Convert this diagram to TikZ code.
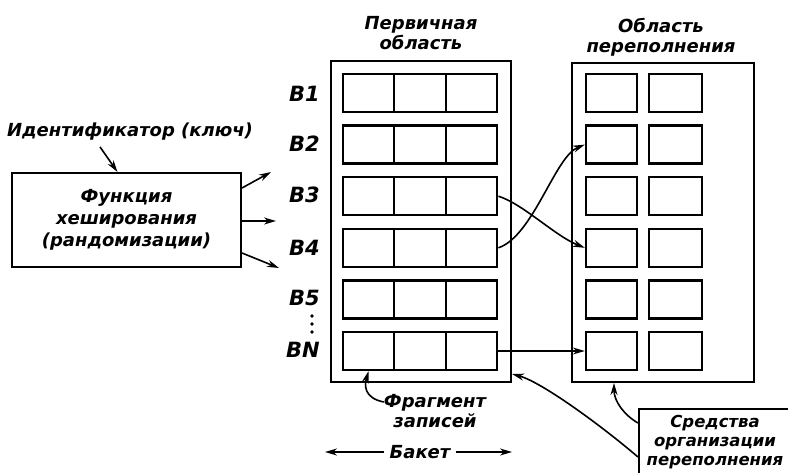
\documentclass[tikz,border=0pt]{standalone}
\usepackage{fontspec}
\setmainfont{DejaVu Sans}
\usepackage{tikz}
\usetikzlibrary{arrows.meta}
\pgfdeclarelayer{edgelayer}
\pgfdeclarelayer{nodelayer}
\pgfsetlayers{edgelayer,nodelayer,main}
\tikzstyle{cell}=[draw=black, line width=2.4pt, minimum width=51.5pt, minimum height=38pt, inner sep=0pt]
\tikzstyle{area}=[draw=black, line width=2pt, inner sep=0pt]
\tikzstyle{note}=[font=\fontsize{18}{20}\selectfont\bfseries\itshape, align=center, inner sep=0pt]
\tikzstyle{bname}=[font=\fontsize{21}{20}\selectfont\bfseries\itshape, anchor=east, inner sep=0pt]
\tikzstyle{link}=[draw=black, line width=1.6pt, -{Stealth[length=12pt,width=7pt]}]

\begin{document}
\begin{tikzpicture}[x=1pt, y=-1pt]
	\useasboundingbox (0,0) rectangle (788,472);
	\begin{pgfonlayer}{nodelayer}
		\node [style=area, minimum width=180pt, minimum height=321pt] (prim) at (421,221.5) {};
		\node [style=area, minimum width=182pt, minimum height=319pt] (over) at (663,222.5) {};
		\foreach \r/\y in {1/93,2/144.6,3/196.2,4/247.8,5/299.4,6/351} {
			\node [style=cell] (p\r-1) at (368.5,\y) {};
			\node [style=cell] (p\r-2) at (420,\y) {};
			\node [style=cell] (p\r-3) at (471.5,\y) {};
			\node [style=cell, minimum width=51pt] (o\r-1) at (611.5,\y) {};
			\node [style=cell, minimum width=53pt] (o\r-2) at (675.5,\y) {};
		}
		\node [style=bname] (b1) at (320,94) {B1};
		\node [style=bname] (b2) at (320,144) {B2};
		\node [style=bname] (b3) at (320,195) {B3};
		\node [style=bname] (b4) at (320,248) {B4};
		\node [style=bname] (b5) at (320,298) {B5};
		\node [style=bname] (bn) at (320,350) {BN};
		\fill (312,316) circle (1.8);
		\fill (312,324) circle (1.8);
		\fill (312,332) circle (1.8);
		\node [style=note] (ptitle) at (421,33) {Первичная\\область};
		\node [style=note] (otitle) at (661,37) {Область\\переполнения};
		\node [style=note] (key) at (130,132) {Идентификатор (ключ)};
		\node [style=area, style=note, font=\fontsize{18}{22}\selectfont\bfseries\itshape, minimum width=229pt, minimum height=94pt] (hash) at (126.5,220) {Функция\\хеширования\\(рандомизации)};
		\node [style=note] (frag) at (435,411) {Фрагмент\\записей};
		\node [style=note] (bucket) at (420,452) {Бакет};
		\node [style=area, style=note, font=\fontsize{16.5}{19}\selectfont\bfseries\itshape, anchor=north west, minimum width=152pt, minimum height=67pt] (tools) at (638,408) {Средства\\организации\\переполнения};
		\coordinate (h1) at (271,172);
		\coordinate (h2) at (276,221);
		\coordinate (h3) at (279,268);
		\coordinate (bl) at (325,452);
		\coordinate (br) at (512,452);
	\end{pgfonlayer}
	\begin{pgfonlayer}{edgelayer}
		\draw [style=link] ([xshift=-30pt,yshift=-6pt]key.south) to ([xshift=-9pt]hash.north);
		\draw [style=link] ([yshift=32pt]hash.east) to (h1);
		\draw [style=link] ([yshift=-1pt]hash.east) to (h2);
		\draw [style=link] ([yshift=-33pt]hash.east) to (h3);
		\draw [style=link] (p3-3.east) .. controls +(25,8) and +(-30,-12) .. (o4-1.west);
		\draw [style=link] (p4-3.east) .. controls +(35,-12) and +(-30,12) .. (o2-1.west);
		\draw [style=link] (p6-3.east) to (o6-1.west);
		\draw [style=link] ([yshift=9pt]frag.west) .. controls +(-20,-4) and +(-4,14) .. (p6-1.south);
		\draw [style=link] ([xshift=-5pt]bucket.west) to (bl);
		\draw [style=link] ([xshift=5pt]bucket.east) to (br);
		\draw [style=link] ([yshift=-15pt]tools.north west) .. controls +(-14,-8) and +(0,18) .. ([xshift=43pt]over.south west);
		\draw [style=link] ([yshift=-49pt]tools.north west) .. controls +(-35,-30) and +(30,8) .. ([yshift=9pt]prim.south east);
	\end{pgfonlayer}
\end{tikzpicture}
\end{document}
